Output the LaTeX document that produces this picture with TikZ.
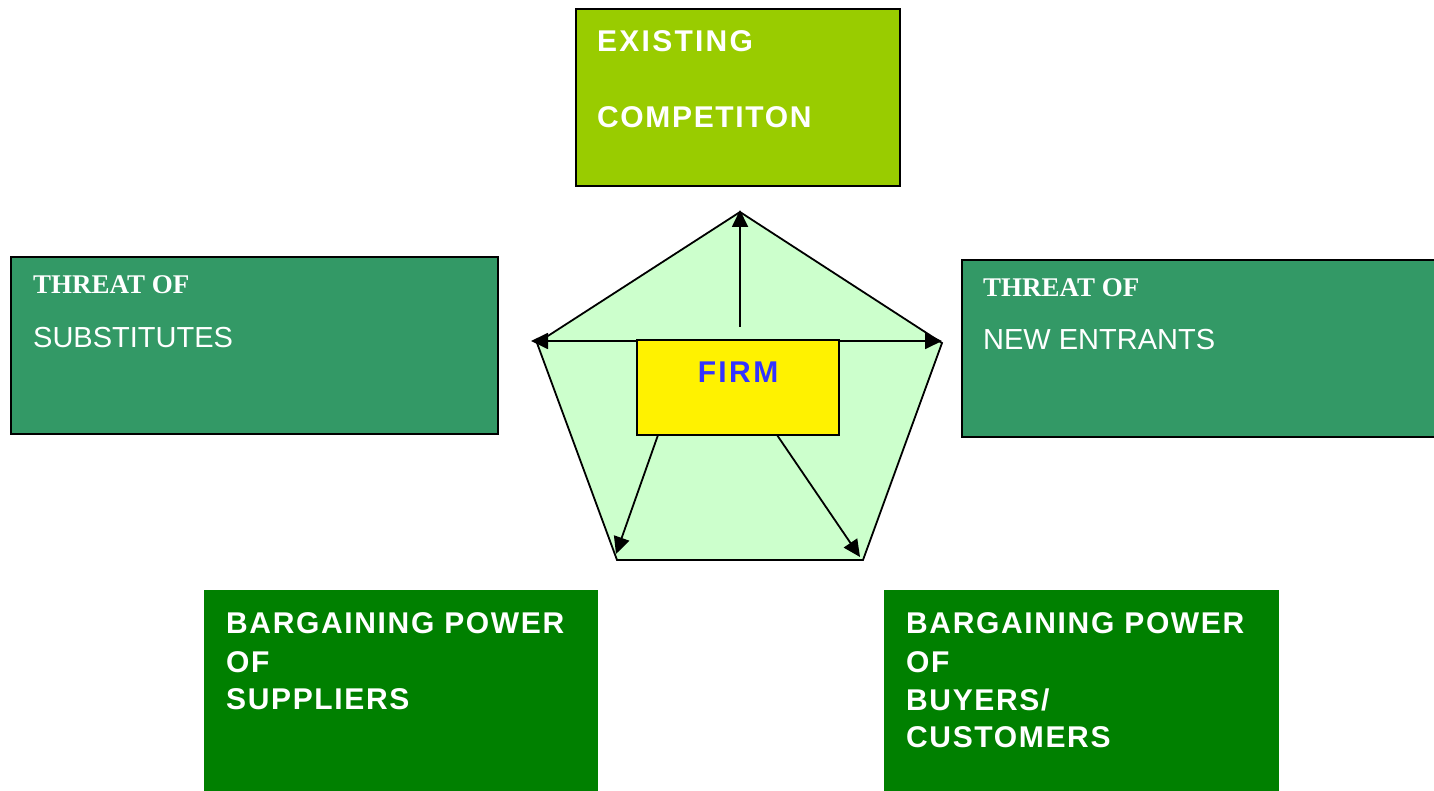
\documentclass[tikz,border=0pt]{standalone}
\usepackage{fontspec}
\setmainfont{Liberation Sans}
\newfontfamily\timesfont{Liberation Serif}
\usetikzlibrary{arrows.meta}
\definecolor{exgreen}{HTML}{99CC00}
\definecolor{thgreen}{HTML}{339966}
\definecolor{bpgreen}{HTML}{008000}
\definecolor{pentfill}{HTML}{CCFFCC}
\definecolor{firmblue}{HTML}{3333FF}
\begin{document}
\begin{tikzpicture}[x=1pt,y=-1pt,
  boxline/.style={draw=black,line width=2pt},
  txt/.style={anchor=base west,inner sep=0pt,text=white},
  boldtxt/.style={txt,font=\fontsize{30}{36}\selectfont\bfseries\addfontfeatures{LetterSpace=5.5}},
  plaintxt/.style={txt,font=\fontsize{29}{36}\selectfont},
  timestxt/.style={txt,font=\fontsize{27}{30}\selectfont\timesfont\bfseries},
  arr/.style={line width=1.8pt,-{Triangle[length=17pt,width=16pt]}}
]
\useasboundingbox (0,0) rectangle (1434,791);
% boxes
\fill[exgreen] (576,9) rectangle (900,186);
\draw[boxline] (576,9) rectangle (900,186);
\fill[thgreen] (11,257) rectangle (498,434);
\draw[boxline] (11,257) rectangle (498,434);
\fill[thgreen] (962,260) rectangle (1440,437);
\draw[boxline] (962,260) rectangle (1440,437);
\fill[bpgreen] (204,590) rectangle (598,795);
\fill[bpgreen] (884,590) rectangle (1279,795);
% texts
\node[boldtxt,font=\fontsize{30}{36}\selectfont\bfseries\addfontfeatures{LetterSpace=7.5}] (t1) at (597,52) {EXISTING};
\node[boldtxt] (t2) at (597,128) {COMPETITON};
\node[timestxt] (t3) at (33,294) {THREAT OF};
\node[plaintxt] (t4) at (33,347) {SUBSTITUTES};
\node[timestxt] (t5) at (983,297) {THREAT OF};
\node[plaintxt] (t6) at (983,349) {NEW ENTRANTS};
\node[boldtxt] (t7) at (226,633) {BARGAINING POWER};
\node[boldtxt] (t8) at (226,672) {OF};
\node[boldtxt] (t9) at (226,709) {SUPPLIERS};
\node[boldtxt] (t10) at (906,633) {BARGAINING POWER};
\node[boldtxt] (t11) at (906,672) {OF};
\node[boldtxt] (t12) at (906,710) {BUYERS/};
\node[boldtxt] (t13) at (906,747) {CUSTOMERS};
% pentagon
\coordinate (pa) at (740,212);
\coordinate (pl) at (537,343);
\coordinate (pr) at (942,343);
\coordinate (pbl) at (617,560);
\coordinate (pbr) at (863,560);
\filldraw[fill=pentfill,draw=black,line width=1.8pt,line join=miter] (pa) -- (pr) -- (pbr) -- (pbl) -- (pl) -- cycle;
% arrows
\coordinate (upstart) at (740,327);
\coordinate (uptip) at (740,210);
\coordinate (ltip) at (531,341);
\coordinate (rtip) at (942,341);
\coordinate (lstart) at (660,341);
\coordinate (rstart) at (820,341);
\coordinate (bltip) at (616,554);
\coordinate (brtip) at (860,557);
\draw[arr] (upstart) -- (uptip);
\draw[arr] (lstart) -- (ltip);
\draw[arr] (rstart) -- (rtip);
% firm
\node[draw=black,line width=1.8pt,fill=yellow,minimum width=202pt,minimum height=95pt,inner sep=0pt,anchor=north west] (firm) at (636,339) {};
\node[anchor=base,inner sep=0pt,text=firmblue,font=\fontsize{30}{36}\selectfont\bfseries\addfontfeatures{LetterSpace=8}] (firmtxt) at (738,382) {FIRM};
\coordinate (blstart) at (658,435);
\coordinate (brstart) at (777,435);
\draw[arr] (blstart) -- (bltip);
\draw[arr] (brstart) -- (brtip);
\end{tikzpicture}
\end{document}
